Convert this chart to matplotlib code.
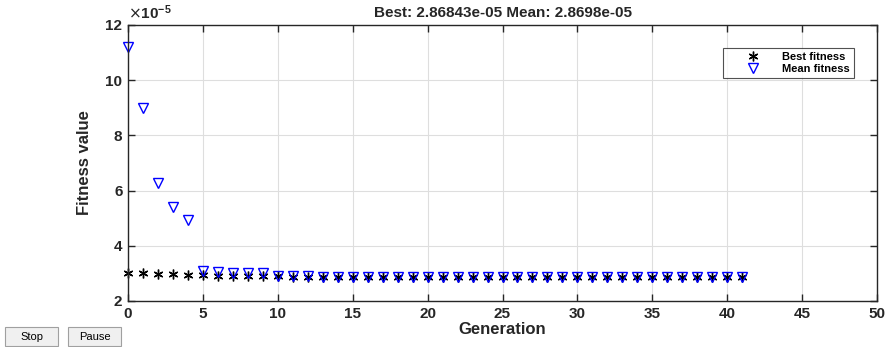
import matplotlib
matplotlib.use("Agg")
import matplotlib.pyplot as plt
from matplotlib.patches import Rectangle

plt.rcParams['font.family'] = ['Liberation Sans', 'DejaVu Sans']

generations = list(range(42))
best_fitness = [3.01, 3.00, 2.98, 2.97, 2.95, 2.93, 2.92, 2.91, 2.90, 2.90,
                2.89, 2.885, 2.88, 2.878, 2.877, 2.876, 2.875, 2.874, 2.873, 2.872,
                2.872, 2.871, 2.871, 2.870, 2.870, 2.870, 2.869, 2.869, 2.869, 2.869,
                2.869, 2.869, 2.8685, 2.8685, 2.8685, 2.8685, 2.8685, 2.8685, 2.8684, 2.8684,
                2.86843, 2.86843]
mean_fitness = [11.2, 9.0, 6.28, 5.42, 4.93, 3.08, 3.05, 3.03, 3.02, 3.02,
                2.91, 2.90, 2.89, 2.885, 2.882, 2.880, 2.879, 2.878, 2.877, 2.876,
                2.875, 2.874, 2.874, 2.873, 2.873, 2.872, 2.872, 2.871, 2.871, 2.871,
                2.871, 2.870, 2.870, 2.870, 2.870, 2.870, 2.8699, 2.8699, 2.8699, 2.8698,
                2.8698, 2.8698]
xticks = [0, 5, 10, 15, 20, 25, 30, 35, 40, 45, 50]
yticks = [2, 4, 6, 8, 10, 12]

fig = plt.figure(figsize=(8.9, 3.47), dpi=100)
ax = fig.add_axes([128/890, 46/347, 749/890, 276/347])

ax.plot(generations, best_fitness, linestyle='none', marker=(6, 2, 0),
        color='black', markersize=7, markeredgewidth=1.0, label='Best fitness',
        clip_on=False, zorder=3)
ax.plot(generations, mean_fitness, linestyle='none', marker='v',
        markerfacecolor='none', markeredgecolor='blue', markersize=7,
        markeredgewidth=1.0, label='Mean fitness', clip_on=False, zorder=3)

ax.set_xlim(0, 50)
ax.set_ylim(2, 12)
ax.set_xticks(xticks)
ax.set_yticks(yticks)
ax.set_xticklabels([str(t) for t in xticks], fontsize=11, fontweight='bold', color='#262626')
ax.set_yticklabels([str(t) for t in yticks], fontsize=11, fontweight='bold', color='#262626')
ax.tick_params(direction='in', length=5, width=1, top=True, right=True, colors='#262626', pad=4)
ax.grid(True, color='#dedede', linewidth=0.8)
ax.set_axisbelow(True)
for s in ax.spines.values():
    s.set_color('#262626')
    s.set_linewidth(1.0)
    s.set_zorder(4)

ax.set_xlabel('Generation', fontsize=12, fontweight='bold', color='#262626', labelpad=1)
ax.set_ylabel('Fitness value', fontsize=12, fontweight='bold', color='#262626', labelpad=10)
ax.set_title('Best: 2.86843e-05 Mean: 2.8698e-05', fontsize=11, fontweight='bold', color='#262626', pad=6)
ax.text(0.0, 1.01, r'$\times\mathregular{10^{-5}}$', transform=ax.transAxes,
        fontsize=11, fontweight='bold', color='#262626', ha='left', va='bottom')

leg = ax.legend(loc='upper right', bbox_to_anchor=(0.9765, 0.935), fontsize=8,
                frameon=True, fancybox=False, edgecolor='#262626',
                handlelength=4.8, handletextpad=0.2, borderpad=0.35,
                labelspacing=0.15, markerfirst=True)
for t in leg.get_texts():
    t.set_fontweight('bold')
leg.get_frame().set_linewidth(0.8)

# Stop / Pause buttons
for x0, w, lbl in [(5, 53, 'Stop'), (68, 53, 'Pause')]:
    fig.patches.append(Rectangle((x0/890, 1/347), w/890, 19/347, transform=fig.transFigure,
                                 facecolor='#f0f0f0', edgecolor='#a0a0a0', linewidth=0.8))
    fig.text((x0 + w/2)/890, 10/347, lbl, ha='center', va='center', fontsize=8, color='black')

fig.savefig('out.png', dpi=100)
